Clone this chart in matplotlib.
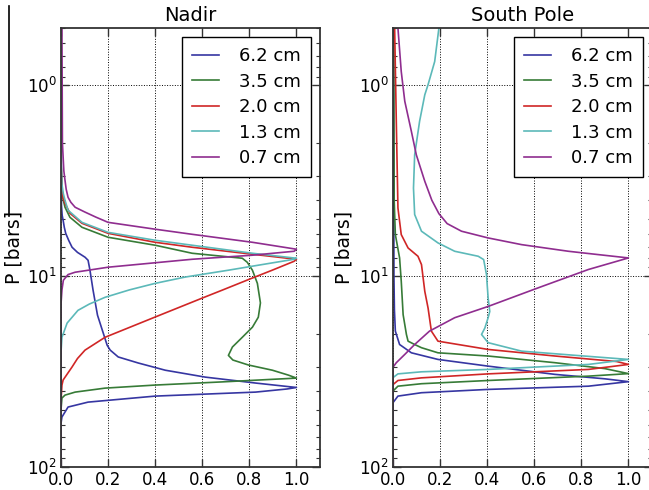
import matplotlib
matplotlib.use("Agg")
from matplotlib import pyplot as plt
from matplotlib.lines import Line2D
from matplotlib.ticker import FormatStrFormatter

labels = ["6.2 cm", "3.5 cm", "2.0 cm", "1.3 cm", "0.7 cm"]
colors = ["#3636a2", "#377b37", "#d02626", "#5cb9b9", "#8f2d8f"]

# Nadir weighting functions (normalised), pressure in bars
nadir_p_62 = [0.5, 4.25, 4.8, 5.09, 5.54, 5.96, 6.5, 7.05, 7.5, 7.95, 8.25, 9.30, 11.8, 16.0, 23.0, 24.4, 26.5, 28.5,
              31.1, 33.8, 36.3, 38.3, 39.0, 40.5, 42.5, 45.7, 48.5, 54.7, 59.0, 100]
nadir_w_62 = [0, 0.002, 0.005, 0.009, 0.014, 0.020, 0.033, 0.047, 0.070, 0.102, 0.115, 0.123, 0.136, 0.155, 0.196,
              0.209, 0.243, 0.328, 0.443, 0.613, 0.826, 1.0, 0.96, 0.826, 0.40, 0.115, 0.030, 0.004, 0, 0]
nadir_p_35 = [0.5, 2.5, 3.5, 3.9, 4.35, 4.91, 5.54, 6.25, 6.88, 7.58, 8.05, 8.45, 9.30, 10.9, 13.8, 16.4, 18.5, 20.9,
              23.5, 26.0, 27.5, 29.2, 31.1, 33.0, 34.2, 35.8, 37.2, 38.6, 40.5, 42.0, 43.5, 50, 100]
nadir_w_35 = [0, 0, 0.004, 0.008, 0.017, 0.038, 0.089, 0.200, 0.400, 0.557, 0.770, 0.791, 0.813, 0.834, 0.847, 0.838,
              0.813, 0.770, 0.728, 0.711, 0.730, 0.796, 0.898, 0.966, 1.0, 0.685, 0.40, 0.187, 0.060, 0.017, 0.004, 0, 0]
nadir_p_20 = [0.5, 2.5, 3.5, 3.9, 4.15, 4.68, 5.28, 5.96, 6.64, 7.05, 7.67, 8.15, 8.35, 9.30, 10.3, 11.8, 12.9, 16.4,
              20.9, 24.4, 27.0, 29.9, 35.0, 37.2, 45, 100]
nadir_w_20 = [0, 0, 0.004, 0.009, 0.017, 0.038, 0.089, 0.200, 0.400, 0.557, 0.813, 1.0, 0.99, 0.897, 0.806, 0.687,
              0.608, 0.398, 0.187, 0.102, 0.070, 0.047, 0.009, 0.004, 0, 0]
nadir_p_13 = [0.5, 2.5, 3.3, 3.7, 4.0, 4.51, 5.22, 5.89, 6.48, 6.88, 7.58, 8.05, 8.15, 8.86, 9.30, 10.1, 10.9, 11.8,
              12.9, 14.0, 15.1, 17.6, 20.9, 25, 100]
nadir_w_13 = [0, 0, 0.004, 0.010, 0.017, 0.030, 0.089, 0.200, 0.400, 0.557, 0.813, 1.0, 0.99, 0.813, 0.711, 0.528,
              0.400, 0.290, 0.187, 0.120, 0.072, 0.026, 0.004, 0, 0]
nadir_p_07 = [0.5, 2.0, 2.8, 3.14, 3.5, 3.86, 4.1, 4.35, 4.6, 4.9, 5.22, 5.67, 6.03, 6.64, 7.22, 7.40, 7.76, 8.15, 8.97,
              9.53, 9.8, 10.5, 11.8, 14, 100]
nadir_w_07 = [0.004, 0.006, 0.012, 0.017, 0.022, 0.030, 0.042, 0.060, 0.100, 0.148, 0.200, 0.400, 0.557, 0.813, 1.0,
              0.99, 0.813, 0.557, 0.200, 0.060, 0.030, 0.010, 0.004, 0, 0]

# South pole weighting functions
pole_p_62 = [0.5, 10, 15, 19.4, 22.8, 25.2, 27.3, 29.6, 32.7, 34.5, 35.7, 37.7, 39.2, 40.8, 42.5, 46, 100]
pole_w_62 = [0.002, 0.004, 0.006, 0.010, 0.028, 0.078, 0.191, 0.404, 0.688, 0.9, 1.0, 0.83, 0.404, 0.121, 0.021, 0, 0]
pole_p_35 = [0.5, 4.0, 6.05, 8.02, 10.6, 15.9, 20.2, 21.9, 22.8, 23.7, 25.2, 26.2, 28.4, 30.5, 32.4, 33.4, 35.2, 36.6,
             37.7, 40, 100]
pole_w_35 = [0.003, 0.005, 0.010, 0.028, 0.035, 0.043, 0.057, 0.064, 0.092, 0.121, 0.191, 0.404, 0.688, 0.9, 1.0, 0.83,
             0.404, 0.121, 0.021, 0, 0]
pole_p_20 = [0.5, 1.54, 4.39, 6.05, 7.11, 7.86, 8.69, 12.0, 14.7, 19.4, 21.9, 24.2, 26.2, 28.0, 29.0, 30.8, 32.5, 34.1,
             35.2, 37, 100]
pole_w_20 = [0.007, 0.014, 0.021, 0.035, 0.064, 0.106, 0.121, 0.135, 0.149, 0.163, 0.191, 0.404, 0.688, 0.95, 1.0, 0.83,
             0.404, 0.121, 0.021, 0, 0]
pole_p_13 = [0.5, 0.75, 0.99, 1.12, 1.54, 2.31, 3.45, 4.75, 5.81, 6.69, 7.4, 7.86, 8.18, 9.8, 13.0, 15.3, 16.5, 18.7,
             20.2, 22.3, 24.7, 25.9, 27.3, 29.0, 30.8, 31.7, 32.5, 34, 100]
pole_w_13 = [0.195, 0.177, 0.149, 0.135, 0.113, 0.092, 0.087, 0.092, 0.121, 0.191, 0.262, 0.362, 0.385, 0.397, 0.404,
             0.411, 0.404, 0.390, 0.376, 0.404, 0.546, 0.759, 1.0, 0.83, 0.404, 0.121, 0.021, 0, 0]
pole_p_07 = [0.5, 0.845, 1.21, 1.74, 2.31, 3.18, 4.0, 4.7, 5.3, 5.81, 6.3, 6.83, 7.4, 7.7, 8.02, 9.22, 11.5, 14.4, 16.5,
             19.4, 22.8, 25.7, 28.4, 30, 100]
pole_w_07 = [0.021, 0.035, 0.050, 0.078, 0.099, 0.135, 0.165, 0.195, 0.230, 0.291, 0.404, 0.546, 0.745, 0.87, 1.0, 0.83,
             0.617, 0.404, 0.262, 0.155, 0.092, 0.050, 0.014, 0, 0]

nadir = [(nadir_w_62, nadir_p_62), (nadir_w_35, nadir_p_35), (nadir_w_20, nadir_p_20),
         (nadir_w_13, nadir_p_13), (nadir_w_07, nadir_p_07)]
pole = [(pole_w_62, pole_p_62), (pole_w_35, pole_p_35), (pole_w_20, pole_p_20),
        (pole_w_13, pole_p_13), (pole_w_07, pole_p_07)]

fig = plt.figure(figsize=(6.49, 4.90), dpi=100)
ax_l = fig.add_axes([61 / 649, 23 / 490, 259 / 649, 439 / 490])
ax_r = fig.add_axes([393 / 649, 23 / 490, 259 / 649, 439 / 490])

for ax, curves, title, lab_x in [(ax_l, nadir, "Nadir", -0.143), (ax_r, pole, "South Pole", -0.153)]:
    for (w, p), lab, c in zip(curves, labels, colors):
        ax.plot(w, p, color=c, lw=1.2, label=lab)
    ax.set_yscale("log")
    ax.set_ylim(100, 0.5)
    ax.set_xlim(0, 1.1)
    ax.set_xticks([0.0, 0.2, 0.4, 0.6, 0.8, 1.0])
    ax.xaxis.set_major_formatter(FormatStrFormatter("%.1f"))
    ax.grid(True, which="major", color="k", ls=":", lw=0.7)
    ax.tick_params(which="both", direction="in", top=True, right=True, labelsize=12, color="#333333")
    ax.tick_params(which="major", length=6, width=1.0, pad=3)
    ax.tick_params(which="minor", length=3, width=0.8)
    for s in ax.spines.values():
        s.set_color("#333333")
        s.set_linewidth(1.3)
    ax.set_title(title, fontsize=14, pad=5)
    ax.set_ylabel("P [bars]", fontsize=13.5)
    ax.yaxis.set_label_coords(lab_x, 0.5)
    leg = ax.legend(loc="upper right", fontsize=13, fancybox=False, framealpha=1,
                    handlelength=1.5, handletextpad=1.1, borderpad=0.55, labelspacing=0.42)
    leg.get_frame().set_edgecolor("k")
    leg.get_frame().set_linewidth(1.0)

# stray frame edge on the far left
fig.add_artist(Line2D([9 / 649, 9 / 649], [1 - 6 / 490, 1 - 216 / 490], transform=fig.transFigure,
                      color="k", lw=1.2))

fig.savefig("out.png", dpi=100)
